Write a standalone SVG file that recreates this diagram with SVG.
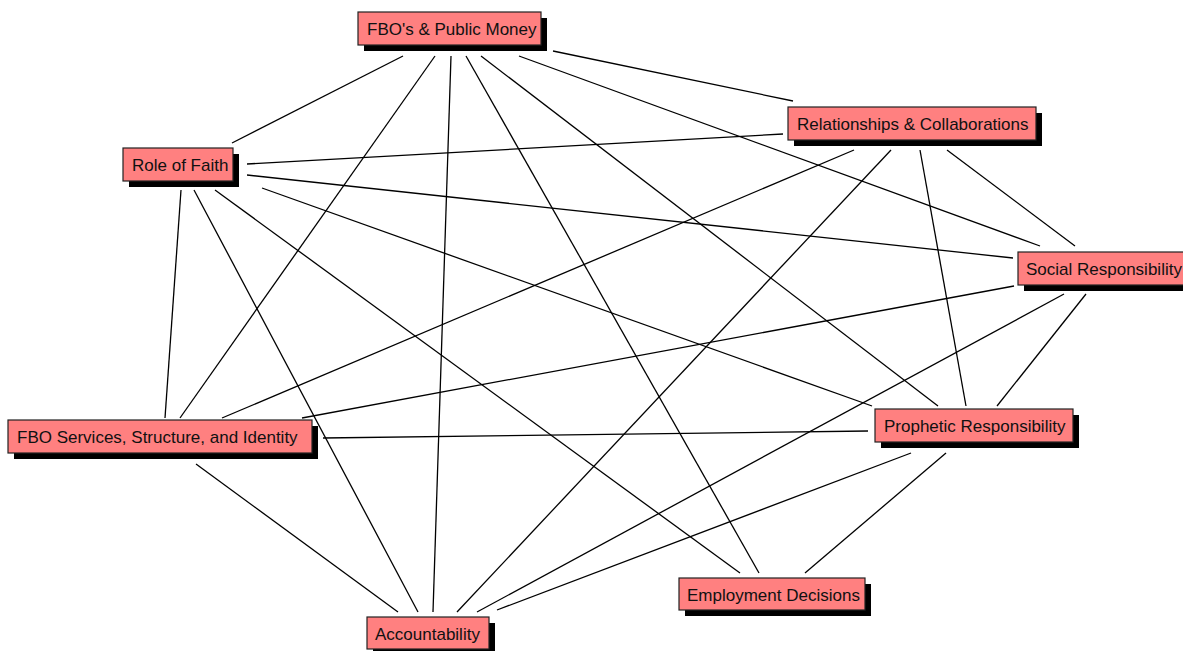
<svg xmlns="http://www.w3.org/2000/svg" width="1183" height="651" viewBox="0 0 1183 651">
<style>
.shadow{fill:#000}
.box{fill:#ff8080;stroke:#222;stroke-width:1.2}
.lbl{font-family:"Liberation Sans",Arial,sans-serif;font-size:17px;fill:#111}
#edges line{stroke:#000;stroke-width:1.3}
</style>
<rect width="1183" height="651" fill="#fff"/>
<g id="edges">
<line x1="403" y1="56" x2="232" y2="143"/>
<line x1="435" y1="56" x2="180" y2="418"/>
<line x1="451" y1="56" x2="433" y2="612"/>
<line x1="466" y1="56" x2="759" y2="573"/>
<line x1="481" y1="56" x2="938" y2="406"/>
<line x1="519" y1="56" x2="1040" y2="246"/>
<line x1="553" y1="51" x2="793" y2="101"/>
<line x1="247" y1="164" x2="783" y2="134"/>
<line x1="247" y1="175" x2="1013" y2="258"/>
<line x1="262" y1="188" x2="872" y2="406"/>
<line x1="215" y1="190" x2="740" y2="573"/>
<line x1="194" y1="190" x2="418" y2="612"/>
<line x1="181" y1="190" x2="165" y2="418"/>
<line x1="854" y1="150" x2="222" y2="418"/>
<line x1="891" y1="150" x2="457" y2="612"/>
<line x1="920" y1="150" x2="966" y2="406"/>
<line x1="947" y1="150" x2="1075" y2="246"/>
<line x1="1014" y1="286" x2="302" y2="418"/>
<line x1="1064" y1="294" x2="477" y2="612"/>
<line x1="1086" y1="294" x2="997" y2="406"/>
<line x1="323" y1="438" x2="868" y2="431"/>
<line x1="196" y1="464" x2="398" y2="612"/>
<line x1="911" y1="453" x2="497" y2="610"/>
<line x1="946" y1="453" x2="805" y2="573"/>
</g>
<g id="n-fbo-money">
<rect class="shadow" x="364" y="18" width="183" height="33"/>
<rect class="box" x="358" y="12" width="183" height="33"/>
<text class="lbl" x="367" y="34.5">FBO's &amp; Public Money</text>
</g>
<g id="n-role-faith">
<rect class="shadow" x="129" y="154" width="110" height="33"/>
<rect class="box" x="123" y="148" width="110" height="33"/>
<text class="lbl" x="132" y="170.5">Role of Faith</text>
</g>
<g id="n-relationships">
<rect class="shadow" x="794" y="113" width="248" height="33"/>
<rect class="box" x="788" y="107" width="248" height="33"/>
<text class="lbl" x="797" y="129.5">Relationships &amp; Collaborations</text>
</g>
<g id="n-social">
<rect class="shadow" x="1024" y="258" width="175" height="33"/>
<rect class="box" x="1018" y="252" width="175" height="33"/>
<text class="lbl" x="1026" y="274.5">Social Responsibility</text>
</g>
<g id="n-fbo-services">
<rect class="shadow" x="14" y="426" width="304" height="33"/>
<rect class="box" x="8" y="420" width="304" height="33"/>
<text class="lbl" x="17" y="442.5">FBO Services, Structure, and Identity</text>
</g>
<g id="n-prophetic">
<rect class="shadow" x="881" y="415" width="198" height="33"/>
<rect class="box" x="875" y="409" width="198" height="33"/>
<text class="lbl" x="884" y="431.5">Prophetic Responsibility</text>
</g>
<g id="n-employment">
<rect class="shadow" x="685" y="584" width="186" height="32"/>
<rect class="box" x="679" y="578" width="186" height="32"/>
<text class="lbl" x="687" y="600.5">Employment Decisions</text>
</g>
<g id="n-accountability">
<rect class="shadow" x="373" y="623" width="122" height="32"/>
<rect class="box" x="367" y="617" width="122" height="32"/>
<text class="lbl" x="375" y="639.5">Accountability</text>
</g>
</svg>
